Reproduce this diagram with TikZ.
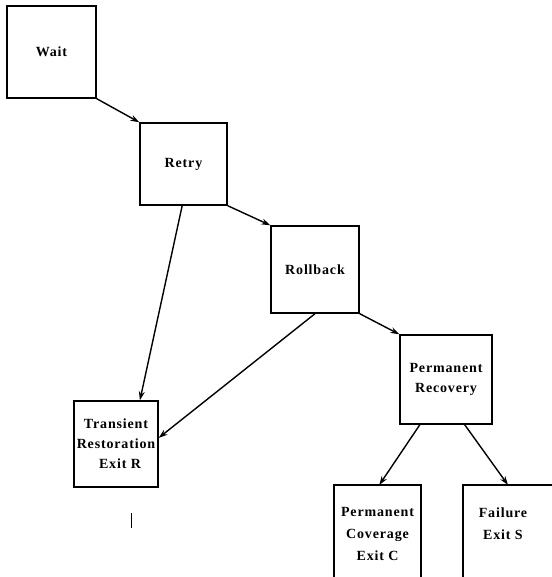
\documentclass[tikz,border=0pt]{standalone}
\usepackage{fontspec}
\setmainfont{Liberation Serif}
\newfontfamily\boxfont[LetterSpace=6]{Liberation Serif}
\usetikzlibrary{arrows.meta,calc}
\begin{document}
\begin{tikzpicture}[x=1pt,y=-1pt,
  boxtext/.style={font=\boxfont\bfseries\fontsize{14}{20}\selectfont,align=center},
  state/.style={draw,line width=1.4pt,rectangle,inner sep=0pt,boxtext},
  edgeline/.style={line width=1.4pt},
  link/.style={line width=1.4pt,-{Stealth[length=9pt,width=6pt]}}]
  \useasboundingbox (0,0) rectangle (551,577);

  % recovery stages
  \node[state,minimum width=89pt,minimum height=92pt] (wait) at (51.5,52) {Wait};
  \node[state,minimum width=87pt,minimum height=82pt] (retry) at (183.5,164) {Retry};
  \node[state,minimum width=88pt,minimum height=87pt] (roll) at (315,269.5) {Rollback};
  \node[state,minimum width=92pt,minimum height=89pt] (prec) at (446,379.5) {Permanent\\Recovery};

  % exits
  \node[state,minimum width=84pt,minimum height=86pt] (trans) at (116,444) {Transient\\Restoration\\\hspace*{8pt}Exit R};
  \coordinate (pcovnw) at (334,485);
  \coordinate (pcovne) at (421,485);
  \coordinate (failnw) at (463,485);
  \coordinate (failne) at (560,485);
  \draw[edgeline] (334,590) -- (pcovnw) -- (pcovne) -- (421,590);
  \node[boxtext,font=\boxfont\bfseries\fontsize{14}{22}\selectfont,anchor=north] (pcovtxt) at (377.5,504) {Permanent\\Coverage\\Exit C};
  \draw[edgeline] (463,590) -- (failnw) -- (failne);
  \node[boxtext,font=\boxfont\bfseries\fontsize{14}{22}\selectfont,anchor=north] (failtxt) at (503,504) {Failure\\Exit S};

  % transitions
  \draw[link] (wait.south east) -- (retry.north west);
  \draw[link] (retry.south east) -- (roll.north west);
  \draw[link] (roll.south east) -- (prec.north west);
  \draw[link] ($(retry.south west)!0.485!(retry.south east)$) -- ($(trans.north west)!0.78!(trans.north east)$);
  \draw[link] (roll.south) -- ($(trans.north east)!0.43!(trans.south east)$);
  \draw[link] ($(prec.south west)!0.22!(prec.south east)$) -- ($(pcovnw)!0.52!(pcovne)$);
  \draw[link] ($(prec.south west)!0.7!(prec.south east)$) -- ($(failnw)+(45,0)$);

  % small stroke below the transient exit
  \draw[line width=1pt] (131,513) -- (131,528);
\end{tikzpicture}
\end{document}
